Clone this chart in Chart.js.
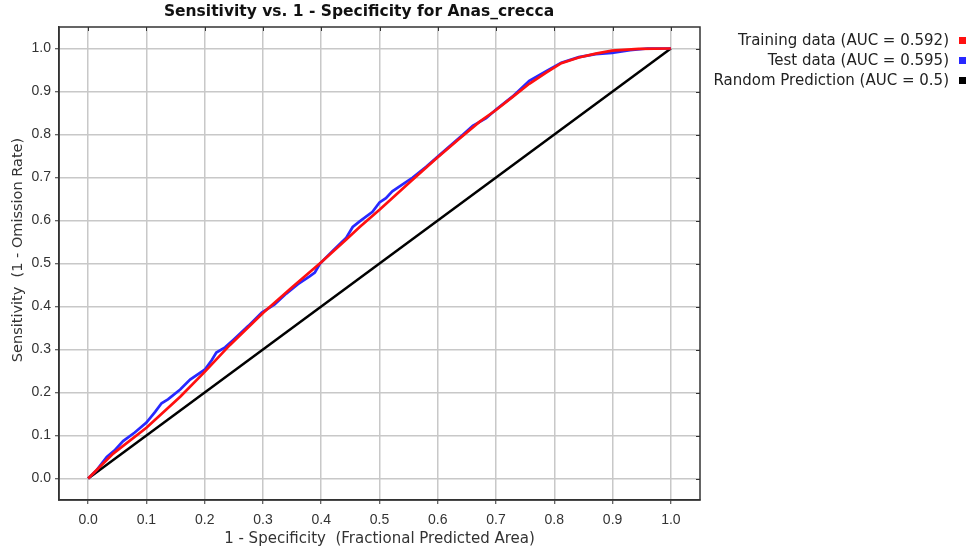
<!DOCTYPE html>
<html>
<head>
<meta charset="utf-8">
<script src="https://cdn.jsdelivr.net/npm/chart.js@4/dist/chart.umd.min.js"></script>
<style>
  html, body { margin: 0; padding: 0; background: #ffffff; }
  #wrap { width: 972px; height: 551px; position: relative; }
</style>
</head>
<body>
<div id="wrap"><canvas id="roc"></canvas></div>
<script>
// ROC curve for Anas_crecca: sensitivity against fractional predicted area
const titleText = 'Sensitivity vs. 1 - Specificity for Anas_crecca';
const xAxisTitle = '1 - Specificity  (Fractional Predicted Area)';
const yAxisTitle = 'Sensitivity  (1 - Omission Rate)';
const tickValues = [0, 0.1, 0.2, 0.3, 0.4, 0.5, 0.6, 0.7, 0.8, 0.9, 1.0];

const seriesLabels = [
  'Training data (AUC = 0.592)',
  'Test data (AUC = 0.595)',
  'Random Prediction (AUC = 0.5)'
];
const seriesColors = ['#ff1010', '#2828ff', '#000000'];

// training curve
const trainX = [0, 0.043, 0.1, 0.158, 0.2, 0.243, 0.3, 0.35, 0.4, 0.443, 0.466, 0.5, 0.551,
  0.598, 0.637, 0.672, 0.7, 0.728, 0.757, 0.786, 0.812, 0.842, 0.871, 0.899, 0.945, 1];
const trainY = [0, 0.058, 0.118, 0.19, 0.248, 0.31, 0.385, 0.445, 0.503, 0.556, 0.585, 0.625, 0.688,
  0.745, 0.79, 0.83, 0.857, 0.887, 0.918, 0.944, 0.966, 0.979, 0.988, 0.995, 0.999, 1];

// test curve
const testX = [0, 0.015, 0.032, 0.045, 0.06, 0.08, 0.1, 0.115, 0.126, 0.137, 0.158, 0.175, 0.2,
  0.212, 0.22, 0.235, 0.249, 0.275, 0.298, 0.32, 0.34, 0.36, 0.38, 0.389, 0.398, 0.42, 0.443,
  0.454, 0.466, 0.488, 0.5, 0.511, 0.522, 0.557, 0.58, 0.603, 0.642, 0.66, 0.683, 0.7, 0.728,
  0.757, 0.786, 0.812, 0.842, 0.871, 0.899, 0.93, 0.96, 1];
const testY = [0, 0.02, 0.05, 0.065, 0.087, 0.107, 0.13, 0.155, 0.175, 0.184, 0.207, 0.23, 0.253,
  0.275, 0.293, 0.305, 0.322, 0.355, 0.386, 0.405, 0.43, 0.452, 0.47, 0.479, 0.5, 0.53, 0.56,
  0.585, 0.598, 0.62, 0.642, 0.652, 0.668, 0.7, 0.725, 0.752, 0.798, 0.82, 0.838, 0.858, 0.888,
  0.925, 0.947, 0.967, 0.98, 0.987, 0.99, 0.996, 1.0, 1];

// random prediction diagonal
const randomX = [0, 1];
const randomY = [0, 1];

const toPoints = (xs, ys) => xs.map((x, i) => ({ x: x, y: ys[i] }));

const TICK_FONT = "'Liberation Sans', Arial, sans-serif";
const TEXT_FONT = "'DejaVu Sans', Verdana, sans-serif";

// frame on all four sides plus inward ticks on the top and right edges
const framePlugin = {
  id: 'frame',
  afterDatasetsDraw(chart) {
    const { ctx, chartArea: a, scales } = chart;
    ctx.save();
    ctx.strokeStyle = '#333333';
    ctx.lineWidth = 1.5;
    ctx.strokeRect(a.left, a.top, a.right - a.left, a.bottom - a.top);
    ctx.lineWidth = 1;
    ctx.beginPath();
    tickValues.forEach(v => {
      const px = Math.round(scales.x.getPixelForValue(v)) + 0.5;
      ctx.moveTo(px, a.top);
      ctx.lineTo(px, a.top + 4);
      const py = Math.round(scales.y.getPixelForValue(v)) + 0.5;
      ctx.moveTo(a.right, py);
      ctx.lineTo(a.right - 4, py);
    });
    ctx.stroke();
    ctx.restore();
  }
};

// title, vertical axis title and right-hand legend with markers after the text
const textPlugin = {
  id: 'texts',
  afterDraw(chart) {
    const { ctx } = chart;
    ctx.save();
    ctx.fillStyle = '#111111';
    ctx.font = 'bold 15.5px ' + TEXT_FONT;
    ctx.textAlign = 'center';
    ctx.textBaseline = 'middle';
    ctx.fillText(titleText, 359, 12);

    ctx.save();
    ctx.translate(18, 250);
    ctx.rotate(-Math.PI / 2);
    ctx.font = '14.5px ' + TEXT_FONT;
    ctx.fillStyle = '#333333';
    ctx.fillText(yAxisTitle, 0, 0);
    ctx.restore();

    ctx.font = '15px ' + TEXT_FONT;
    ctx.textAlign = 'right';
    ctx.fillStyle = '#222222';
    seriesLabels.forEach((label, i) => {
      const cy = 41 + i * 20;
      ctx.fillText(label, 949, cy);
      ctx.fillStyle = seriesColors[i];
      ctx.fillRect(959, cy - 4, 7, 7);
      ctx.fillStyle = '#222222';
    });
    ctx.restore();
  }
};

const axisCommon = {
  type: 'linear',
  min: -0.05,
  max: 1.05,
  grid: {
    color: '#c8c8c8',
    lineWidth: 1.5,
    drawTicks: true,
    tickLength: 4,
    tickColor: '#333333',
    tickWidth: 1
  },
  border: { display: true, color: '#333333', width: 1.5 },
};

new Chart(document.getElementById('roc'), {
  type: 'scatter',
  data: {
    datasets: [
      { label: seriesLabels[0], data: toPoints(trainX, trainY), borderColor: seriesColors[0],
        borderWidth: 2.7, showLine: true, pointRadius: 0, order: 1 },
      { label: seriesLabels[1], data: toPoints(testX, testY), borderColor: seriesColors[1],
        borderWidth: 2.7, showLine: true, pointRadius: 0, order: 2 },
      { label: seriesLabels[2], data: toPoints(randomX, randomY), borderColor: seriesColors[2],
        borderWidth: 2.5, showLine: true, pointRadius: 0, order: 3 }
    ]
  },
  options: {
    responsive: true,
    maintainAspectRatio: false,
    animation: false,
    layout: { padding: { left: 0, top: 27, right: 272, bottom: 0 } },
    plugins: {
      legend: { display: false },
      tooltip: { enabled: false },
      title: { display: false }
    },
    scales: {
      x: Object.assign({}, axisCommon, {
        position: 'bottom',
        afterFit(scale) { scale.height = 51; },
        afterBuildTicks(scale) { scale.ticks = tickValues.map(v => ({ value: v })); },
        ticks: {
          color: '#333333',
          font: { family: TICK_FONT, size: 14 },
          padding: 8,
          maxRotation: 0,
          autoSkip: false,
          callback: v => Number(v).toFixed(1)
        },
        title: {
          display: true,
          text: xAxisTitle,
          color: '#333333',
          font: { family: TEXT_FONT, size: 15 },
          padding: { top: 0, bottom: 3 }
        }
      }),
      y: Object.assign({}, axisCommon, {
        position: 'left',
        afterFit(scale) { scale.width = 59; },
        afterBuildTicks(scale) { scale.ticks = tickValues.map(v => ({ value: v })); },
        ticks: {
          color: '#333333',
          font: { family: TICK_FONT, size: 14 },
          padding: 4,
          autoSkip: false,
          callback: v => Number(v).toFixed(1)
        }
      })
    }
  },
  plugins: [framePlugin, textPlugin]
});
</script>
</body>
</html>
